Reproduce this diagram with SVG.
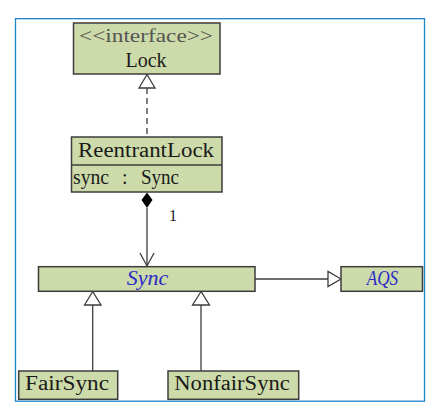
<svg xmlns="http://www.w3.org/2000/svg" width="441" height="415" viewBox="0 0 441 415">
<style>
.box{fill:#cddaa9;stroke:#3c3c3c;stroke-width:1.5}
.t{font-family:"Liberation Serif",serif;fill:#1a1a1a}
.it{font-family:"Liberation Serif",serif;font-style:italic;fill:#2a2ac8}
.ln{stroke:#3c3c3c;stroke-width:1.3;fill:none}
.tri{fill:#ffffff;stroke:#3c3c3c;stroke-width:1.3}
</style>
<rect x="0" y="0" width="441" height="415" fill="#ffffff"/>
<rect x="15.5" y="18.7" width="409" height="382.5" fill="none" stroke="#1a85c8" stroke-width="1.3"/>
<g id="connectors">
  <line class="ln" x1="147" y1="88" x2="147" y2="137" stroke-dasharray="6,4"/>
  <polygon class="tri" points="147,74.5 139,88 155,88"/>
  <line class="ln" x1="147" y1="208" x2="147" y2="266"/>
  <polygon points="147,192.5 152.5,200 147,208 141.5,200" fill="#000000"/>
  <polyline class="ln" points="140,253 147,266 154,253"/>
  <text class="t" x="169" y="221" font-size="16">1</text>
  <line class="ln" x1="255" y1="279" x2="328" y2="279"/>
  <polygon class="tri" points="341,279 328,271.5 328,286.5"/>
  <line class="ln" x1="92.7" y1="305" x2="92.7" y2="371"/>
  <polygon class="tri" points="92.7,291.5 84.5,305 101,305"/>
  <line class="ln" x1="201" y1="305" x2="201" y2="371"/>
  <polygon class="tri" points="201,291.5 192.5,305 209.5,305"/>
</g>
<g id="Lock">
  <rect class="box" x="73.5" y="23" width="146.5" height="51"/>
  <text class="t" x="79" y="42" font-size="18" style="fill:#555555" textLength="134" lengthAdjust="spacingAndGlyphs">&lt;&lt;interface&gt;&gt;</text>
  <text class="t" x="125.5" y="66.5" font-size="20" textLength="41" lengthAdjust="spacingAndGlyphs">Lock</text>
</g>
<g id="ReentrantLock">
  <rect class="box" x="71.5" y="137" width="150.5" height="55"/>
  <line class="ln" x1="71.5" y1="165" x2="222" y2="165"/>
  <text class="t" x="78" y="157" font-size="20" textLength="136" lengthAdjust="spacingAndGlyphs">ReentrantLock</text>
  <text class="t" x="73" y="184" font-size="20" textLength="36" lengthAdjust="spacingAndGlyphs">sync</text>
  <text class="t" x="122" y="184" font-size="20">:</text>
  <text class="t" x="141" y="184" font-size="20" textLength="38" lengthAdjust="spacingAndGlyphs">Sync</text>
</g>
<g id="Sync">
  <rect class="box" x="38.5" y="266.7" width="216.5" height="24.6"/>
  <text class="it" x="126.7" y="284.5" font-size="20" textLength="41.5" lengthAdjust="spacingAndGlyphs">Sync</text>
</g>
<g id="AQS">
  <rect class="box" x="341" y="266.7" width="81.5" height="24.6"/>
  <text class="it" x="366.7" y="284.5" font-size="20" textLength="31.5" lengthAdjust="spacingAndGlyphs">AQS</text>
</g>
<g id="FairSync">
  <rect class="box" x="18.7" y="371" width="99" height="28.3"/>
  <text class="t" x="25" y="390" font-size="20" textLength="84" lengthAdjust="spacingAndGlyphs">FairSync</text>
</g>
<g id="NonfairSync">
  <rect class="box" x="168" y="371" width="130.7" height="28.3"/>
  <text class="t" x="174.3" y="390" font-size="20" textLength="115.5" lengthAdjust="spacingAndGlyphs">NonfairSync</text>
</g>
</svg>
